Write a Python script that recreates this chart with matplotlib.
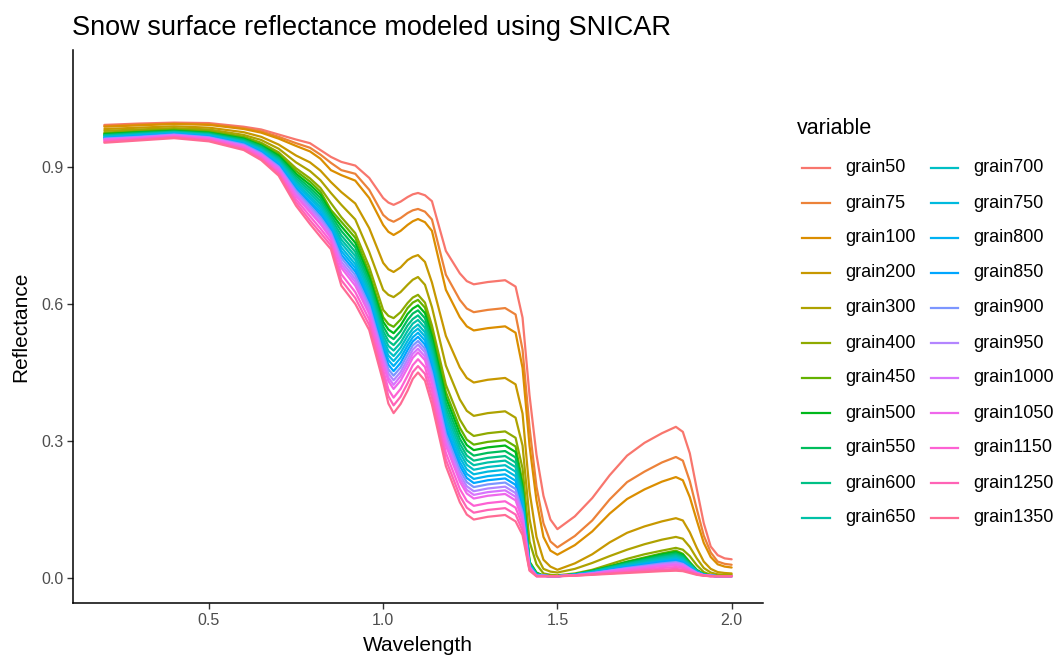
import numpy as np
import matplotlib
matplotlib.use("Agg")
import matplotlib.pyplot as plt
from matplotlib.lines import Line2D

plt.rcParams['font.family'] = ['Liberation Sans', 'DejaVu Sans']

wavelength = [0.20, 0.30, 0.40, 0.50, 0.60, 0.65, 0.70, 0.75, 0.79, 0.82,
              0.85, 0.88, 0.92, 0.96, 1.00, 1.015, 1.03, 1.05, 1.07, 1.085,
              1.10, 1.12, 1.14, 1.18, 1.22, 1.24, 1.26, 1.30, 1.35, 1.38,
              1.40, 1.42, 1.44, 1.46, 1.48, 1.50, 1.55, 1.60, 1.65, 1.70,
              1.75, 1.80, 1.84, 1.86, 1.88, 1.90, 1.92, 1.94, 1.96, 1.98, 2.00]

grain50 = [.992,.995,.997,.996,.988,.982,.971,.960,.952,.937,.922,.911,.903,.876,
           .832,.822,.817,.824,.834,.840,.843,.838,.825,.716,.667,.650,.643,
           .648,.652,.638,.570,.400,.270,.180,.128,.107,.135,.175,.225,.268,.296,.317,.331,.320,.273,.195,.120,.069,.050,.043,.041]
grain75 = [.990,.993,.995,.994,.985,.978,.966,.952,.942,.927,.909,.893,.885,.850,
           .795,.785,.780,.788,.799,.805,.808,.802,.785,.664,.609,.590,.582,
           .587,.591,.577,.500,.330,.200,.120,.080,.067,.092,.126,.172,.210,.233,.253,.265,.257,.212,.151,.093,.056,.036,.031,.029]
grain100 = [.988,.991,.994,.992,.983,.975,.962,.946,.934,.918,.893,.882,.870,.832,
            .773,.758,.751,.760,.773,.781,.786,.779,.760,.631,.571,.551,.542,
            .547,.551,.537,.460,.290,.170,.090,.060,.051,.072,.102,.141,.173,.194,.211,.221,.214,.177,.126,.077,.046,.030,.025,.023]
grain200 = [.983,.986,.989,.986,.976,.966,.949,.925,.910,.892,.867,.845,.820,.766,
            .690,.676,.670,.680,.696,.703,.707,.692,.647,.530,.461,.438,.428,
            .434,.438,.424,.360,.190,.090,.040,.025,.018,.032,.052,.078,.099,.113,.124,.131,.126,.100,.066,.036,.020,.013,.011,.010]
grain300 = [.979,.982,.985,.982,.970,.959,.940,.910,.891,.871,.843,.817,.785,.714,
            .631,.620,.615,.626,.642,.653,.659,.642,.593,.465,.391,.366,.355,
            .361,.365,.351,.290,.130,.050,.020,.014,.012,.020,.033,.048,.062,.074,.084,.090,.086,.068,.043,.022,.012,.008,.007,.007]
grain400 = [.975,.979,.982,.979,.966,.953,.932,.897,.875,.854,.821,.790,.755,.681,
            .587,.574,.569,.582,.602,.614,.620,.603,.553,.423,.347,.322,.311,
            .317,.321,.307,.240,.080,.030,.010,.007,.006,.010,.018,.030,.042,.052,.060,.066,.062,.048,.028,.013,.007,.005,.005,.005]
grain450 = [.973,.977,.981,.977,.964,.950,.928,.891,.868,.846,.806,.780,.745,.668,
            .571,.556,.550,.566,.591,.603,.609,.592,.541,.407,.329,.303,.292,
            .298,.302,.288,.209,.036,.012,.005,.004,.004,.008,.016,.026,.036,.045,.054,.060,.053,.035,.018,.008,.005,.004,.004,.004]
grain500 = [.972,.976,.979,.975,.962,.947,.925,.885,.861,.839,.800,.770,.734,.659,
            .561,.544,.536,.553,.578,.590,.597,.580,.529,.395,.317,.291,.280,
            .286,.290,.276,.200,.034,.011,.005,.004,.004,.008,.016,.025,.035,.043,.052,.057,.051,.033,.017,.008,.005,.004,.004,.004]
grain550 = [.970,.975,.978,.974,.960,.945,.921,.880,.854,.832,.794,.760,.724,.650,
            .551,.531,.523,.540,.565,.579,.586,.569,.517,.383,.305,.279,.268,
            .274,.278,.264,.192,.033,.010,.005,.004,.004,.008,.015,.024,.033,.041,.049,.054,.048,.032,.017,.008,.005,.004,.004,.004]
grain600 = [.969,.973,.977,.972,.958,.943,.918,.875,.848,.825,.788,.750,.714,.642,
            .541,.519,.510,.527,.553,.567,.575,.558,.506,.372,.294,.268,.257,
            .263,.267,.253,.184,.032,.009,.005,.004,.004,.008,.014,.023,.031,.039,.046,.051,.045,.030,.016,.008,.005,.004,.004,.004]
grain650 = [.968,.972,.976,.971,.956,.940,.915,.870,.842,.819,.782,.741,.705,.633,
            .532,.508,.498,.515,.541,.557,.565,.548,.496,.362,.284,.258,.247,
            .253,.257,.243,.177,.030,.008,.005,.004,.004,.008,.014,.022,.030,.037,.044,.048,.043,.028,.015,.008,.005,.004,.004,.004]
grain700 = [.966,.971,.975,.970,.955,.938,.912,.865,.836,.813,.777,.733,.696,.626,
            .523,.497,.486,.504,.530,.546,.555,.538,.486,.352,.274,.248,.237,
            .243,.247,.233,.170,.029,.007,.005,.004,.004,.007,.013,.020,.028,.034,.041,.045,.040,.027,.014,.007,.005,.004,.004,.004]
grain750 = [.965,.970,.974,.969,.953,.936,.909,.861,.831,.807,.772,.724,.687,.618,
            .515,.487,.475,.493,.519,.537,.546,.529,.477,.343,.264,.238,.227,
            .233,.237,.223,.163,.028,.007,.005,.004,.004,.007,.012,.019,.026,.032,.038,.042,.037,.025,.014,.007,.005,.004,.004,.004]
grain800 = [.964,.969,.973,.967,.951,.934,.907,.856,.825,.801,.767,.716,.679,.611,
            .507,.477,.464,.482,.509,.527,.537,.520,.468,.333,.254,.228,.217,
            .223,.227,.213,.156,.027,.006,.005,.004,.004,.007,.012,.018,.025,.031,.036,.040,.036,.024,.013,.007,.005,.004,.004,.004]
grain850 = [.963,.967,.972,.966,.950,.932,.904,.852,.820,.795,.762,.708,.671,.604,
            .499,.467,.453,.471,.499,.518,.528,.511,.459,.324,.245,.219,.208,
            .214,.218,.204,.150,.026,.006,.005,.004,.004,.007,.011,.018,.024,.029,.035,.038,.034,.023,.013,.007,.005,.004,.004,.004]
grain900 = [.962,.966,.971,.965,.949,.930,.901,.848,.815,.790,.757,.701,.663,.597,
            .491,.457,.443,.461,.489,.509,.519,.502,.450,.315,.236,.210,.199,
            .205,.209,.195,.144,.025,.005,.005,.004,.004,.006,.011,.016,.022,.027,.032,.035,.031,.021,.012,.006,.005,.004,.004,.004]
grain950 = [.961,.965,.970,.964,.947,.928,.899,.844,.810,.785,.753,.693,.655,.591,
            .484,.448,.433,.451,.479,.500,.511,.494,.442,.306,.227,.201,.190,
            .196,.200,.186,.137,.024,.005,.005,.004,.004,.006,.010,.016,.021,.025,.030,.033,.030,.020,.011,.006,.005,.004,.004,.004]
grain1000 = [.960,.964,.969,.963,.946,.926,.896,.840,.805,.779,.748,.686,.648,.584,
             .477,.439,.423,.442,.470,.491,.502,.485,.433,.298,.219,.193,.182,
             .188,.192,.178,.132,.023,.005,.005,.004,.004,.006,.010,.015,.020,.024,.028,.031,.028,.019,.011,.006,.005,.004,.004,.004]
grain1050 = [.959,.963,.968,.962,.944,.925,.894,.836,.801,.775,.744,.679,.640,.578,
             .469,.431,.414,.432,.460,.482,.494,.477,.425,.290,.211,.185,.174,
             .180,.184,.170,.126,.022,.004,.004,.004,.004,.006,.009,.014,.018,.022,.026,.028,.025,.017,.010,.006,.004,.004,.004,.004]
grain1150 = [.957,.961,.966,.960,.942,.921,.889,.829,.792,.765,.736,.665,.626,.566,
             .456,.413,.395,.414,.443,.466,.479,.462,.410,.274,.195,.169,.158,
             .164,.168,.154,.115,.020,.004,.004,.004,.004,.006,.008,.012,.016,.019,.022,.024,.022,.015,.009,.006,.004,.004,.004,.004]
grain1250 = [.955,.960,.965,.958,.939,.918,.885,.822,.783,.756,.728,.652,.613,.554,
             .443,.398,.378,.397,.426,.451,.464,.447,.395,.259,.180,.154,.143,
             .149,.153,.139,.104,.018,.004,.004,.004,.004,.005,.008,.010,.013,.016,.018,.020,.018,.013,.008,.005,.004,.004,.004,.004]
grain1350 = [.953,.958,.963,.956,.937,.915,.881,.815,.775,.747,.720,.640,.600,.543,
             .430,.382,.361,.381,.410,.436,.450,.432,.380,.245,.166,.139,.128,
             .134,.138,.124,.094,.016,.004,.004,.004,.004,.005,.007,.009,.011,.013,.015,.016,.015,.011,.007,.005,.004,.004,.004,.004]

series_names = ["grain50", "grain75", "grain100", "grain200", "grain300", "grain400",
                "grain450", "grain500", "grain550", "grain600", "grain650", "grain700",
                "grain750", "grain800", "grain850", "grain900", "grain950", "grain1000",
                "grain1050", "grain1150", "grain1250", "grain1350"]
series_values = [grain50, grain75, grain100, grain200, grain300, grain400,
                 grain450, grain500, grain550, grain600, grain650, grain700,
                 grain750, grain800, grain850, grain900, grain950, grain1000,
                 grain1050, grain1150, grain1250, grain1350]

x_ticks = [0.5, 1.0, 1.5, 2.0]
x_tick_labels = ["0.5", "1.0", "1.5", "2.0"]
y_ticks = [0.0, 0.3, 0.6, 0.9]
y_tick_labels = ["0.0", "0.3", "0.6", "0.9"]


def hcl_hex(h, c=100.0, l=65.0):
    Xn, Yn, Zn = 95.047, 100.0, 108.883
    den = Xn + 15 * Yn + 3 * Zn
    un, vn = 4 * Xn / den, 9 * Yn / den
    hr = np.deg2rad(h)
    U, V = c * np.cos(hr), c * np.sin(hr)
    Y = Yn * ((l + 16) / 116) ** 3
    u = U / (13 * l) + un
    v = V / (13 * l) + vn
    X = Y * 9 * u / (4 * v)
    Z = Y * (12 - 3 * u - 20 * v) / (4 * v)
    X, Y, Z = X / 100, Y / 100, Z / 100
    r = 3.240479 * X - 1.537150 * Y - 0.498535 * Z
    g = -0.969256 * X + 1.875992 * Y + 0.041556 * Z
    b = 0.055648 * X - 0.204043 * Y + 1.057311 * Z

    def gam(t):
        t = min(max(t, 0.0), 1.0)
        return 12.92 * t if t <= 0.0031308 else 1.055 * t ** (1 / 2.4) - 0.055
    return (gam(r), gam(g), gam(b))


n = len(series_names)
hues = np.linspace(15, 375, n + 1)[:-1]
colors = [hcl_hex(h) for h in hues]

W, H = 1057, 660
fig = plt.figure(figsize=(W / 100, H / 100), dpi=100)
ax = fig.add_axes([73 / W, 1 - 603 / H, (763 - 73) / W, (603 - 50) / H])

for name, vals, col in zip(series_names, series_values, colors):
    ax.plot(wavelength, vals, color=col, lw=1.6, solid_capstyle='round',
            solid_joinstyle='round', label=name)

ax.set_xlim(0.11, 2.09)
ax.set_ylim(-0.0547, 1.156)
ax.set_xticks(x_ticks)
ax.set_xticklabels(x_tick_labels)
ax.set_yticks(y_ticks)
ax.set_yticklabels(y_tick_labels)
for s in ['top', 'right']:
    ax.spines[s].set_visible(False)
for s in ['left', 'bottom']:
    ax.spines[s].set_linewidth(1.1)
    ax.spines[s].set_color('black')
ax.tick_params(direction='out', length=4, width=1.0, color='#333333',
               labelsize=11.5, labelcolor='#4D4D4D', pad=3)
ax.set_xlabel("Wavelength", fontsize=15, labelpad=6)
ax.set_ylabel("Reflectance", fontsize=15, labelpad=8)
fig.text(72 / W, 1 - 28 / H, "Snow surface reflectance modeled using SNICAR",
         fontsize=19.5, ha='left', va='center')

# legend
fig.text(797 / W, 1 - 128 / H, "variable", fontsize=15.5, ha='left', va='center')
rows = 11
for i, (name, col) in enumerate(zip(series_names, colors)):
    colno, row = divmod(i, rows)
    yc = 1 - (168 + 35 * row) / H
    kx0 = (802 if colno == 0 else 931) / W
    kx1 = (830 if colno == 0 else 958) / W
    tx = (845 if colno == 0 else 973) / W
    fig.add_artist(Line2D([kx0, kx1], [yc, yc], transform=fig.transFigure,
                          color=col, lw=1.6))
    fig.text(tx, yc, name, fontsize=13, ha='left', va='center')

fig.savefig("out.png", dpi=100)
